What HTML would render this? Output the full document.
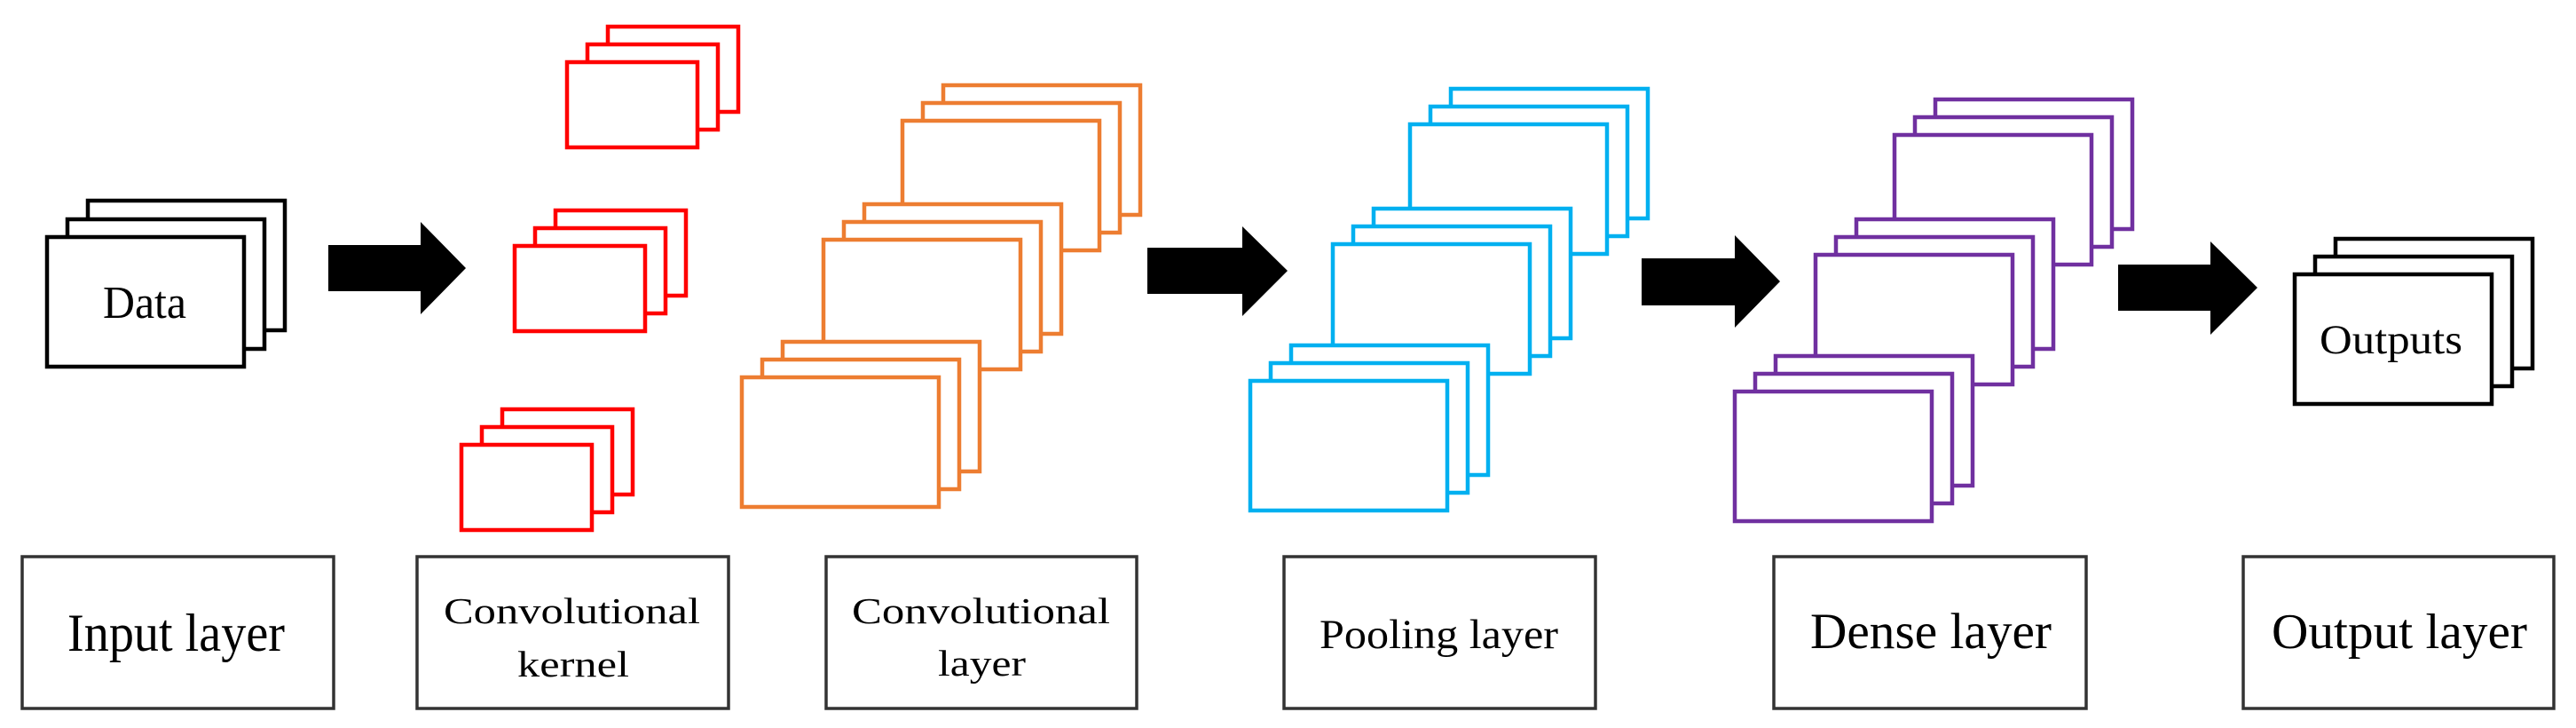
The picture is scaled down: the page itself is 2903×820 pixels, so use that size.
<!DOCTYPE html>
<html><head><meta charset="utf-8"><style>html,body{margin:0;padding:0;background:#fff;}svg{display:block;}</style></head>
<body>
<svg width="2903" height="820" viewBox="0 0 2903 820" xmlns="http://www.w3.org/2000/svg" font-family="'Liberation Serif', serif">
<g fill="#fff" stroke-width="4.5">
<!-- Input stack -->
<g stroke="#000">
<rect x="99" y="226" width="222" height="146"/><rect x="76" y="247" width="222" height="146"/><rect x="53" y="267" width="222" height="146"/>
</g>
<!-- Red kernels -->
<g stroke="#ff0000">
<rect x="685" y="30" width="147" height="96"/><rect x="662" y="50" width="147" height="96"/><rect x="639" y="70" width="147" height="96"/>
<rect x="626" y="237" width="147" height="96"/><rect x="603" y="257" width="147" height="96"/><rect x="580" y="277" width="147" height="96"/>
<rect x="566" y="461" width="147" height="96"/><rect x="543" y="481" width="147" height="96"/><rect x="520" y="501" width="147" height="96"/>
</g>
<!-- Orange -->
<g stroke="#ed7d31">
<rect x="1063" y="96" width="222" height="146"/><rect x="1040" y="116" width="222" height="146"/><rect x="1017" y="136" width="222" height="146"/>
<rect x="974" y="230" width="222" height="146"/><rect x="951" y="250" width="222" height="146"/><rect x="928" y="270" width="222" height="146"/>
<rect x="882" y="385" width="222" height="146"/><rect x="859" y="405" width="222" height="146"/><rect x="836" y="425" width="222" height="146"/>
</g>
<!-- Blue -->
<g stroke="#00b0f0">
<rect x="1635" y="100" width="222" height="146"/><rect x="1612" y="120" width="222" height="146"/><rect x="1589" y="140" width="222" height="146"/>
<rect x="1548" y="235" width="222" height="146"/><rect x="1525" y="255" width="222" height="146"/><rect x="1502" y="275" width="222" height="146"/>
<rect x="1455" y="389" width="222" height="146"/><rect x="1432" y="409" width="222" height="146"/><rect x="1409" y="429" width="222" height="146"/>
</g>
<!-- Purple -->
<g stroke="#7030a0">
<rect x="2181" y="112" width="222" height="146"/><rect x="2158" y="132" width="222" height="146"/><rect x="2135" y="152" width="222" height="146"/>
<rect x="2092" y="247" width="222" height="146"/><rect x="2069" y="267" width="222" height="146"/><rect x="2046" y="287" width="222" height="146"/>
<rect x="2001" y="401" width="222" height="146"/><rect x="1978" y="421" width="222" height="146"/><rect x="1955" y="441" width="222" height="146"/>
</g>
<!-- Outputs -->
<g stroke="#000">
<rect x="2632" y="269" width="222" height="146"/><rect x="2609" y="289" width="222" height="146"/><rect x="2586" y="309" width="222" height="146"/>
</g>
<!-- Label boxes -->
<g stroke="#333" stroke-width="3.5">
<rect x="25" y="627" width="351" height="171"/>
<rect x="470" y="627" width="351" height="171"/>
<rect x="931" y="627" width="350" height="171"/>
<rect x="1447" y="627" width="351" height="171"/>
<rect x="1999" y="627" width="352" height="171"/>
<rect x="2528" y="627" width="350" height="171"/>
</g>
</g>
<!-- Arrows -->
<g fill="#000">
<polygon points="370,276 474,276 474,250 525,302 474,354 474,328 370,328"/>
<polygon points="1293,279 1400,279 1400,255 1451,305 1400,356 1400,331 1293,331"/>
<polygon points="1850,291 1955,291 1955,265 2006,317 1955,369 1955,344 1850,344"/>
<polygon points="2387,298 2491,298 2491,272 2544,324 2491,377 2491,350 2387,350"/>
</g>
<!-- Text -->
<g fill="#000">
<text x="116" y="358" font-size="52" textLength="94" lengthAdjust="spacingAndGlyphs">Data</text>
<text x="2614" y="398" font-size="47" textLength="161" lengthAdjust="spacingAndGlyphs">Outputs</text>
<text x="76" y="733" font-size="60" textLength="245" lengthAdjust="spacingAndGlyphs">Input layer</text>
<text x="500" y="702" font-size="41" textLength="289" lengthAdjust="spacingAndGlyphs">Convolutional</text>
<text x="583" y="762" font-size="41" textLength="126" lengthAdjust="spacingAndGlyphs">kernel</text>
<text x="960" y="702" font-size="41" textLength="291" lengthAdjust="spacingAndGlyphs">Convolutional</text>
<text x="1057" y="761" font-size="41" textLength="99" lengthAdjust="spacingAndGlyphs">layer</text>
<text x="1487" y="730" font-size="47" textLength="269" lengthAdjust="spacingAndGlyphs">Pooling layer</text>
<text x="2040" y="730" font-size="57" textLength="272" lengthAdjust="spacingAndGlyphs">Dense layer</text>
<text x="2560" y="730" font-size="56" textLength="288" lengthAdjust="spacingAndGlyphs">Output layer</text>
</g>
</svg>
</body></html>
